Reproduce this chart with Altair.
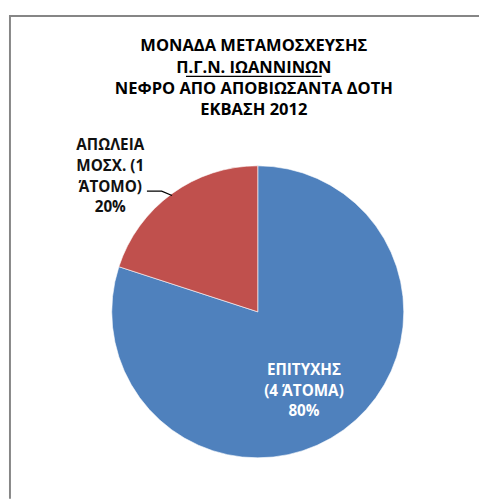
import altair as alt
import pandas as pd

# ---- data ----
categories = ["ΕΠΙΤΥΧΗΣ", "ΑΠΩΛΕΙΑ ΜΟΣΧ."]
persons = [4, 1]
label_lines = [["ΕΠΙΤΥΧΗΣ", "(4 ΆΤΟΜΑ)"], ["ΑΠΩΛΕΙΑ", "ΜΟΣΧ. (1", "ΆΤΟΜΟ)"]]
colors = ["#4F81BD", "#C0504D"]
title_lines = ["ΜΟΝΑΔΑ ΜΕΤΑΜΟΣΧΕΥΣΗΣ", "Π.Γ.Ν. ΙΩΑΝΝΙΝΩΝ", "ΝΕΦΡΟ ΑΠΟ ΑΠΟΒΙΩΣΑΝΤΑ ΔΟΤΗ", "ΕΚΒΑΣΗ 2012"]

total = sum(persons)
labels = [
    "\n".join(lines + [f"{round(100 * v / total)}%"]) for lines, v in zip(label_lines, persons)
]
df = pd.DataFrame({"category": categories, "value": persons, "order": [0, 1], "label": labels})

FONT = "Open Sans"
CX, CY, R = 253, 304.8, 148.5

pie = alt.Chart(df).mark_arc(radius=R, stroke="white", strokeWidth=0.6).encode(
    theta=alt.Theta("value:Q", stack=True),
    order=alt.Order("order:Q"),
    color=alt.Color("category:N", scale=alt.Scale(domain=categories, range=colors), legend=None),
    x=alt.value(CX),
    y=alt.value(CY),
)

blue_label = alt.Chart(df).transform_filter(alt.datum.order == 0).mark_text(
    font=FONT, fontSize=15.5, fontWeight="bold", color="white", lineBreak="\n",
    lineHeight=20.5, align="center", baseline="middle"
).encode(text="label:N", x=alt.value(300), y=alt.value(364.5))

red_label = alt.Chart(df).transform_filter(alt.datum.order == 1).mark_text(
    font=FONT, fontSize=15.5, fontWeight="bold", color="#111111", lineBreak="\n",
    lineHeight=21, align="center", baseline="middle"
).encode(text="label:N", x=alt.value(103), y=alt.value(135.5))

leader_df = pd.DataFrame({"px": [140.3, 155.3, 165.8], "py": [182, 182, 186.5], "i": [0, 1, 2]})
leader = alt.Chart(leader_df).mark_line(color="black", strokeWidth=1.3).encode(
    x=alt.X("px:Q", scale=None), y=alt.Y("py:Q", scale=None), order="i:Q"
)

title_df = pd.DataFrame({"t": ["\n".join(title_lines)]})
title = alt.Chart(title_df).mark_text(
    font=FONT, fontSize=16.8, fontWeight="bold", color="black", lineBreak="\n",
    lineHeight=21.7, align="center", baseline="middle"
).encode(text="t:N", x=alt.value(249), y=alt.value(35))

underline = alt.Chart(title_df).mark_rule(color="black", strokeWidth=1.4).encode(
    x=alt.value(180), x2=alt.value(318), y=alt.value(65.3)
)

border_left = alt.Chart(title_df).mark_rule(color="#868686", strokeWidth=2).encode(
    x=alt.value(1), y=alt.value(4), y2=alt.value(495)
)
border_top = alt.Chart(title_df).mark_rule(color="#868686", strokeWidth=2).encode(
    x=alt.value(0), x2=alt.value(480), y=alt.value(4)
)

chart = alt.layer(pie, leader, blue_label, red_label, title, underline, border_left, border_top).properties(
    width=479, height=492, padding=0,
    autosize=alt.AutoSizeParams(type="fit", contains="padding"),
    background="white",
).configure_view(stroke=None)

chart.save("out.html", embed_options={"renderer": "svg", "actions": False})
